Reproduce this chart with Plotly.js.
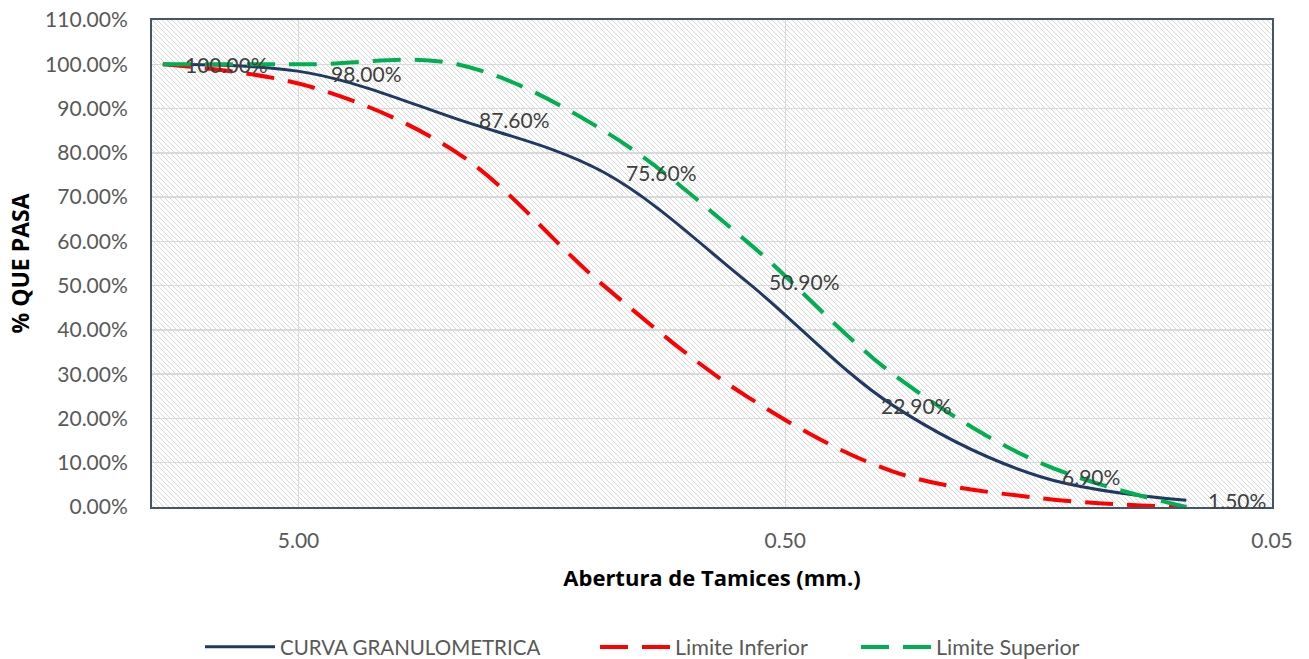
<!DOCTYPE html>
<html>
<head>
<meta charset="utf-8">
<script src="https://cdn.plot.ly/plotly-3.0.1.min.js"></script>
<style>
  html, body { margin: 0; padding: 0; background: #ffffff; }
  #chart { width: 1309px; height: 659px; }
</style>
</head>
<body>
<div id="chart"></div>
<script>
// ---- data ----
const sieveSizes = [9.5, 4.75, 2.36, 1.18, 0.6, 0.3, 0.15, 0.075];
const curvaGranulometrica = [100.0, 98.0, 87.6, 75.6, 50.9, 22.9, 6.9, 1.5];
const limiteInferior = [100, 95, 80, 50, 25, 8, 2, 0];
const limiteSuperior = [100, 100, 100, 85, 60, 30, 10, 0];
const seriesNames = ['CURVA GRANULOMETRICA', 'Limite Inferior', 'Limite Superior'];
const xTickVals = [5, 0.5, 0.05];
const xTickText = ['5.00', '0.50', '0.05'];
const yTickVals = [0, 10, 20, 30, 40, 50, 60, 70, 80, 90, 100, 110];
const yTickText = yTickVals.map(v => v.toFixed(2) + '%');

const FONT = 'Lato, "Open Sans", sans-serif';
const TFONT = '"Open Sans", Lato, sans-serif';
const M = { l: 152, r: 37, t: 20, b: 152 };
const W = 1309, H = 659;
const pw = W - M.l - M.r, ph = H - M.t - M.b;

// hatch background for the plot area (SVG pattern image)
const hatchSvg =
  '<svg xmlns="http://www.w3.org/2000/svg" width="' + pw + '" height="' + ph + '" viewBox="0 0 ' + pw + ' ' + ph + '" preserveAspectRatio="none">' +
  '<defs><pattern id="h" patternUnits="userSpaceOnUse" width="5" height="5">' +
  '<path d="M-1,-1 L6,6 M-1,4 L1,6 M4,-1 L6,1" stroke="#d9d9d9" stroke-width="1"/>' +
  '</pattern></defs><rect width="100%" height="100%" fill="#ffffff"/>' +
  '<rect width="100%" height="100%" fill="url(#h)"/></svg>';
const hatchUri = 'data:image/svg+xml;base64,' + btoa(hatchSvg);

const traces = [
  {
    x: sieveSizes, y: curvaGranulometrica, type: 'scatter', mode: 'lines',
    name: seriesNames[0], legend: 'legend',
    line: { color: '#203864', width: 3, shape: 'spline', smoothing: 1 },
    hoverinfo: 'skip'
  },
  {
    x: sieveSizes, y: limiteInferior, type: 'scatter', mode: 'lines',
    name: seriesNames[1], legend: 'legend2',
    line: { color: '#ff0000', width: 4, dash: '28px,14px', shape: 'spline', smoothing: 1 },
    hoverinfo: 'skip'
  },
  {
    x: sieveSizes, y: limiteSuperior, type: 'scatter', mode: 'lines',
    name: seriesNames[2], legend: 'legend3',
    line: { color: '#00b050', width: 4, dash: '28px,14px', shape: 'spline', smoothing: 1 },
    hoverinfo: 'skip'
  }
];

// data labels for the main curve
const annotations = sieveSizes.map((s, i) => ({
  x: Math.log10(s), y: curvaGranulometrica[i], xref: 'x', yref: 'y',
  text: curvaGranulometrica[i].toFixed(2) + '%',
  showarrow: false, xanchor: 'left', yanchor: 'middle',
  xshift: (i === 5 ? -14 : 20),
  font: { family: FONT, size: 21, color: '#404040' }
}));

function legendAt(px, size) {
  return {
    orientation: 'h', xref: 'container', yref: 'container',
    x: px / W, xanchor: 'left', y: (H - 647) / H, yanchor: 'middle',
    font: { family: FONT, size: size, color: '#595959' },
    itemwidth: 70, bgcolor: 'rgba(0,0,0,0)', borderwidth: 0
  };
}

const layout = {
  width: W, height: H,
  margin: M,
  paper_bgcolor: '#ffffff',
  plot_bgcolor: 'rgba(0,0,0,0)',
  showlegend: true,
  font: { family: FONT, size: 20, color: '#595959' },
  xaxis: {
    type: 'log', automargin: false,
    range: [1, Math.log10(0.05)],
    tickvals: xTickVals, ticktext: xTickText,
    showgrid: true, gridcolor: '#d9d9d9', gridwidth: 1.5,
    showline: true, mirror: true, linecolor: '#44546a', linewidth: 2,
    ticks: 'outside', ticklen: 14, tickcolor: 'rgba(0,0,0,0)',
    tickfont: { family: FONT, size: 21, color: '#595959' },
    zeroline: false,
    title: { text: '<b>Abertura de Tamices (mm.)</b>', standoff: 19,
             font: { family: TFONT, size: 22, color: '#000000' } }
  },
  yaxis: {
    range: [0, 110], automargin: false,
    tickvals: yTickVals, ticktext: yTickText,
    showgrid: true, gridcolor: '#d9d9d9', gridwidth: 1.5,
    showline: true, mirror: true, linecolor: '#44546a', linewidth: 2,
    ticks: 'outside', ticklen: 18, tickcolor: 'rgba(0,0,0,0)',
    tickfont: { family: FONT, size: 21, color: '#595959' },
    zeroline: false,
    title: { text: '<b>% QUE PASA</b>', standoff: 9,
             font: { family: TFONT, size: 23, color: '#000000' } }
  },
  legend: legendAt(200, 20.5),
  legend2: legendAt(595, 21.5),
  legend3: legendAt(856, 21.5),
  images: [{
    source: hatchUri, xref: 'paper', yref: 'paper', x: 0, y: 1,
    sizex: 1, sizey: 1, xanchor: 'left', yanchor: 'top',
    sizing: 'stretch', layer: 'below'
  }],
  annotations: annotations
};

Plotly.newPlot('chart', traces, layout, { displayModeBar: false, staticPlot: true });
</script>
</body>
</html>
